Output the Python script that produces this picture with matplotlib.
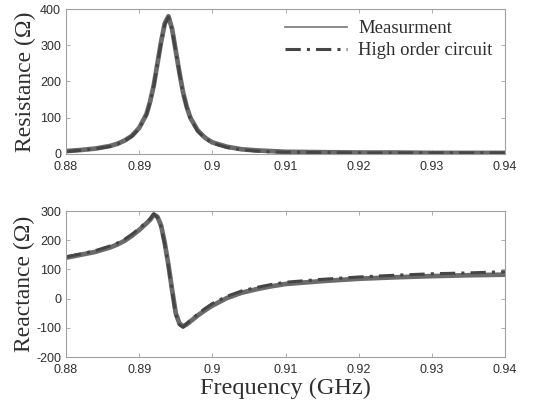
import matplotlib
matplotlib.use("Agg")
import matplotlib.pyplot as plt
from matplotlib.lines import Line2D

freq = [0.880, 0.882, 0.884, 0.886, 0.887, 0.888, 0.889, 0.890, 0.891, 0.8915, 0.892, 0.8925,
        0.893, 0.8935, 0.894, 0.8945, 0.895, 0.8955, 0.896, 0.8965, 0.897, 0.898, 0.899, 0.900,
        0.902, 0.904, 0.906, 0.908, 0.910, 0.915, 0.920, 0.925, 0.930, 0.935, 0.940]
res_meas = [8, 11, 15, 22, 28, 37, 50, 72, 110, 145, 190, 250,
            310, 360, 380, 345, 285, 225, 170, 130, 100, 65, 45, 32,
            20, 13, 10, 8, 6, 5, 4, 4, 3, 3, 3]
res_model = [7, 10, 14, 21, 27, 36, 49, 70, 108, 143, 188, 248,
             308, 358, 378, 343, 283, 223, 168, 128, 98, 63, 43, 30,
             18, 12, 8, 6, 5, 4, 3, 3, 3, 3, 3]

freq_x = [0.880, 0.882, 0.884, 0.886, 0.887, 0.888, 0.889, 0.890, 0.891, 0.8915, 0.892, 0.8925,
          0.893, 0.8935, 0.894, 0.8945, 0.895, 0.8955, 0.896, 0.8965, 0.897, 0.898, 0.899, 0.900,
          0.902, 0.904, 0.906, 0.908, 0.910, 0.915, 0.920, 0.925, 0.930, 0.935, 0.940]
rea_meas = [140, 150, 160, 175, 185, 198, 215, 235, 258, 270, 288, 280,
            250, 190, 115, 30, -50, -85, -95, -88, -78, -58, -40, -24,
            2, 20, 32, 42, 50, 60, 68, 73, 77, 80, 82]
rea_model = [143, 153, 164, 180, 190, 203, 220, 240, 262, 273, 290, 278,
             245, 185, 110, 25, -55, -90, -98, -86, -74, -53, -34, -17,
             8, 26, 38, 48, 56, 66, 74, 80, 85, 88, 92]

fig = plt.figure(figsize=(5.34, 4.11), dpi=100)
W, H = 534, 411
ax1 = fig.add_axes([66 / W, 1 - 154 / H, 439 / W, 145 / H])
ax2 = fig.add_axes([66 / W, 1 - 357 / H, 439 / W, 146 / H])

line_c = "#6b6b6b"
dash_c = "#454545"
txt_c = "#2e2e2e"
serif = ["Liberation Serif", "DejaVu Serif"]
sans = ["Liberation Sans", "DejaVu Sans"]
dashdot = (0, (5, 2, 1, 2))

xt = [0.88, 0.89, 0.9, 0.91, 0.92, 0.93, 0.94]
xtl = ["0.88", "0.89", "0.9", "0.91", "0.92", "0.93", "0.94"]

for ax in (ax1, ax2):
    for s in ax.spines.values():
        s.set_color("#a0a0a0")
        s.set_linewidth(0.8)
    ax.tick_params(direction="in", top=True, right=True, length=3, width=0.6,
                   colors="#a0a0a0", labelcolor=txt_c, labelsize=9)
    ax.tick_params(axis="x", pad=5)
    ax.set_xlim(0.88, 0.94)
    ax.set_xticks(xt)
    ax.set_xticklabels(xtl, family=sans)

ax1.plot(freq, res_meas, color=line_c, lw=3.4, solid_capstyle="round")
ax1.plot(freq, res_model, color=dash_c, lw=2.2, ls=dashdot)
ax1.set_ylim(0, 400)
ax1.set_yticks([0, 100, 200, 300, 400])
ax1.set_yticklabels(["0", "100", "200", "300", "400"], family=sans)
ax1.set_ylabel("Resistance (\u03a9)", family=serif, fontsize=17, color=txt_c, labelpad=3)

handles = [Line2D([], [], color="#777777", lw=1.2),
           Line2D([], [], color=dash_c, lw=2.2, ls=dashdot)]
leg = ax1.legend(handles, ["Measurment", "High order circuit"], loc="upper right",
                 frameon=False, prop={"family": serif, "size": 13.5},
                 handlelength=3.3, handletextpad=0.6, borderaxespad=0.2, labelspacing=0.25,
                 bbox_to_anchor=(0.997, 1.0))
for t in leg.get_texts():
    t.set_color(txt_c)

ax2.plot(freq_x, rea_meas, color=line_c, lw=3.4, solid_capstyle="round")
ax2.plot(freq_x, rea_model, color=dash_c, lw=2.2, ls=dashdot)
ax2.set_ylim(-200, 300)
ax2.set_yticks([-200, -100, 0, 100, 200, 300])
ax2.set_yticklabels(["-200", "-100", "0", "100", "200", "300"], family=sans)
ax2.set_ylabel("Reactance (\u03a9)", family=serif, fontsize=17, color=txt_c, labelpad=1)
ax2.set_xlabel("Frequency (GHz)", family=serif, fontsize=17.5, color=txt_c, labelpad=1)

fig.savefig("out.png", dpi=100)
